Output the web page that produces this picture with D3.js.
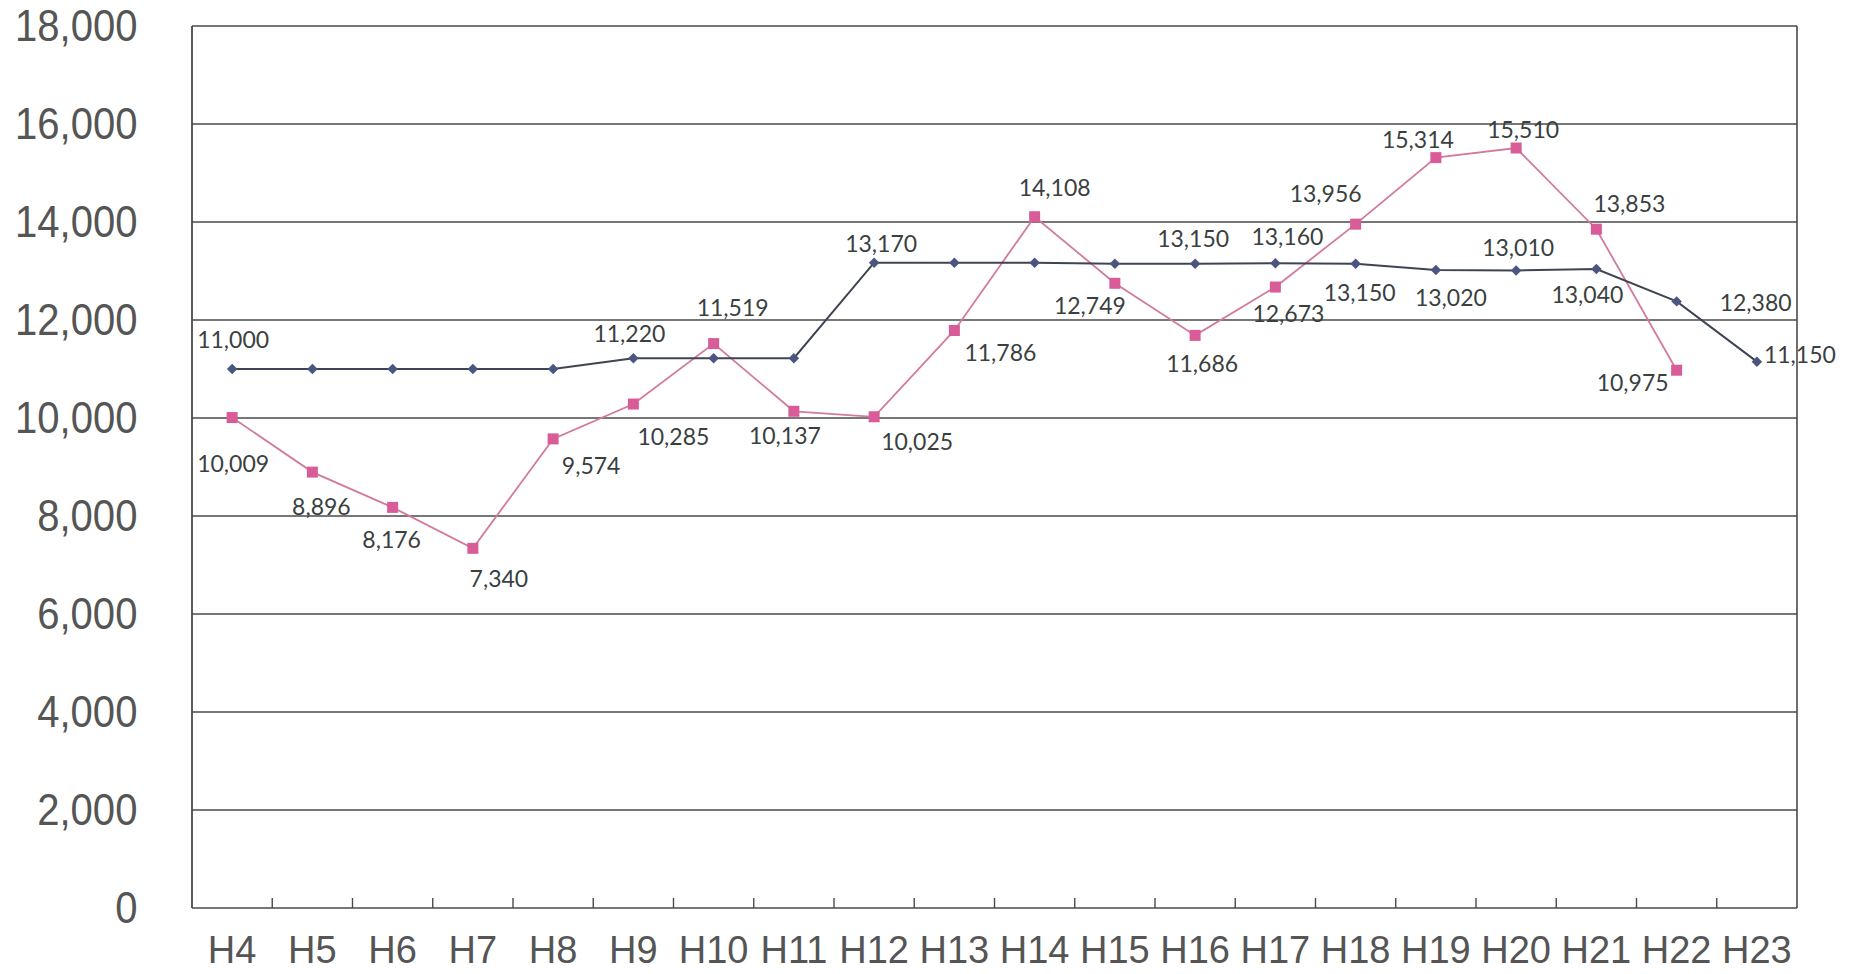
<!DOCTYPE html>
<html>
<head>
<meta charset="utf-8">
<script src="https://cdn.jsdelivr.net/npm/d3@7"></script>
<style>
  body { margin: 0; background: #fff; }
  svg { display: block; }
</style>
</head>
<body>
<div id="chart"></div>
<script>
// データ
const years = ["H4", "H5", "H6", "H7", "H8", "H9", "H10", "H11", "H12", "H13",
               "H14", "H15", "H16", "H17", "H18", "H19", "H20", "H21", "H22", "H23"];
const seriesA = [11000, 11000, 11000, 11000, 11000, 11220, 11220, 11220, 13170, 13170,
                 13170, 13150, 13150, 13160, 13150, 13020, 13010, 13040, 12380, 11150];
const seriesB = [10009, 8896, 8176, 7340, 9574, 10285, 11519, 10137, 10025, 11786,
                 14108, 12749, 11686, 12673, 13956, 15314, 15510, 13853, 10975, null];
// ラベルを表示する点
const labeledA = [0, 5, 8, 12, 13, 14, 15, 16, 17, 18, 19];
const yTicks = [0, 2000, 4000, 6000, 8000, 10000, 12000, 14000, 16000, 18000];

// ラベルの位置（点からのずれ）
const offsetA = {0: [1, -30], 5: [-4, -25], 8: [7, -20], 12: [-2, -26], 13: [12, -27],
                 14: [4, 28], 15: [15, 27], 16: [2, -24], 17: [-9, 25], 18: [79, 1], 19: [43, -8]};
const offsetB = [[1, 45], [9, 34], [-1, 32], [26, 30], [38, 26], [40, 32], [19, -37], [-9, 24],
                 [43, 24], [46, 22], [20, -30], [-25, 22], [7, 28], [13, 26], [-30, -31],
                 [-18, -19], [7, -19], [33, -26], [-44, 12]];

// SVGの設定
const W = 1855, H = 974;
const margin = {top: 26, right: 58, bottom: 66, left: 192};
const width = W - margin.left - margin.right;
const height = H - margin.top - margin.bottom;

const svg = d3.select("#chart").append("svg")
  .attr("width", W)
  .attr("height", H);

const g = svg.append("g")
  .attr("transform", `translate(${margin.left},${margin.top})`);

// スケール
const x = d3.scaleBand().domain(years).range([0, width]);
const y = d3.scaleLinear().domain([0, 18000]).range([height, 0]);
const cx = d => x(d) + x.bandwidth() / 2;

// グリッド線
g.append("g")
  .selectAll("line")
  .data(yTicks)
  .enter().append("line")
  .attr("x1", 0).attr("x2", width)
  .attr("y1", d => y(d)).attr("y2", d => y(d))
  .attr("stroke", "#4a4a4a")
  .attr("stroke-width", 1.6);

// 枠（左右）
g.append("line").attr("x1", 0).attr("x2", 0).attr("y1", 0).attr("y2", height)
  .attr("stroke", "#4a4a4a").attr("stroke-width", 1.8);
g.append("line").attr("x1", width).attr("x2", width).attr("y1", 0).attr("y2", height)
  .attr("stroke", "#4a4a4a").attr("stroke-width", 1.6);

// 下の目盛り（内向き）
g.append("g")
  .selectAll("line")
  .data(years.slice(1))
  .enter().append("line")
  .attr("x1", d => x(d)).attr("x2", d => x(d))
  .attr("y1", height).attr("y2", height - 10)
  .attr("stroke", "#4a4a4a")
  .attr("stroke-width", 1.4);

// Y軸
const yAxis = d3.axisLeft(y)
  .tickValues(yTicks)
  .tickSize(0)
  .tickPadding(60)
  .tickFormat(d3.format(","));

g.append("g")
  .call(yAxis)
  .call(s => s.select(".domain").remove())
  .selectAll("text")
  .style("font-family", "'Liberation Sans', Arial, sans-serif")
  .style("font-size", "44px")
  .attr("transform", "scale(0.91,1)")
  .attr("fill", "#555");

// X軸
const xAxis = d3.axisBottom(x).tickSize(0).tickPadding(28);
g.append("g")
  .attr("transform", `translate(0,${height})`)
  .call(xAxis)
  .call(s => s.select(".domain").remove())
  .selectAll("text")
  .style("font-family", "'Liberation Sans', Arial, sans-serif")
  .style("font-size", "38px")
  .attr("fill", "#555");

// 折れ線
const lineA = d3.line()
  .x((d, i) => cx(years[i]))
  .y(d => y(d));
const lineB = d3.line()
  .defined(d => d !== null)
  .x((d, i) => cx(years[i]))
  .y(d => y(d));

g.append("path")
  .datum(seriesB)
  .attr("d", lineB)
  .attr("fill", "none")
  .attr("stroke", "#d27a9e")
  .attr("stroke-width", 1.8);

g.append("path")
  .datum(seriesA)
  .attr("d", lineA)
  .attr("fill", "none")
  .attr("stroke", "#3e4453")
  .attr("stroke-width", 2);

// マーカー
g.append("g")
  .selectAll("rect")
  .data(seriesB.map((v, i) => ({v, i})).filter(d => d.v !== null))
  .enter().append("rect")
  .attr("x", d => cx(years[d.i]) - 5.5)
  .attr("y", d => y(d.v) - 5.5)
  .attr("width", 11)
  .attr("height", 11)
  .attr("fill", "#d95c98");

g.append("g")
  .selectAll("path")
  .data(seriesA.map((v, i) => ({v, i})))
  .enter().append("path")
  .attr("d", d3.symbol().type(d3.symbolDiamond2).size(70))
  .attr("transform", d => `translate(${cx(years[d.i])},${y(d.v)})`)
  .attr("fill", "#4b5680");

// データラベル
const fmt = d3.format(",");
const labelFont = "Lato, 'Open Sans', sans-serif";

g.append("g")
  .selectAll("text")
  .data(seriesB.map((v, i) => ({v, i})).filter(d => d.v !== null))
  .enter().append("text")
  .attr("x", d => cx(years[d.i]) + offsetB[d.i][0])
  .attr("y", d => y(d.v) + offsetB[d.i][1])
  .attr("text-anchor", "middle")
  .attr("dominant-baseline", "central")
  .style("font-family", labelFont)
  .style("font-size", "23px")
  .attr("fill", "#3a3f3f")
  .text(d => fmt(d.v));

g.append("g")
  .selectAll("text")
  .data(labeledA)
  .enter().append("text")
  .attr("x", i => cx(years[i]) + offsetA[i][0])
  .attr("y", i => y(seriesA[i]) + offsetA[i][1])
  .attr("text-anchor", "middle")
  .attr("dominant-baseline", "central")
  .style("font-family", labelFont)
  .style("font-size", "23px")
  .attr("fill", "#3a3f3f")
  .text(i => fmt(seriesA[i]));
</script>
</body>
</html>
